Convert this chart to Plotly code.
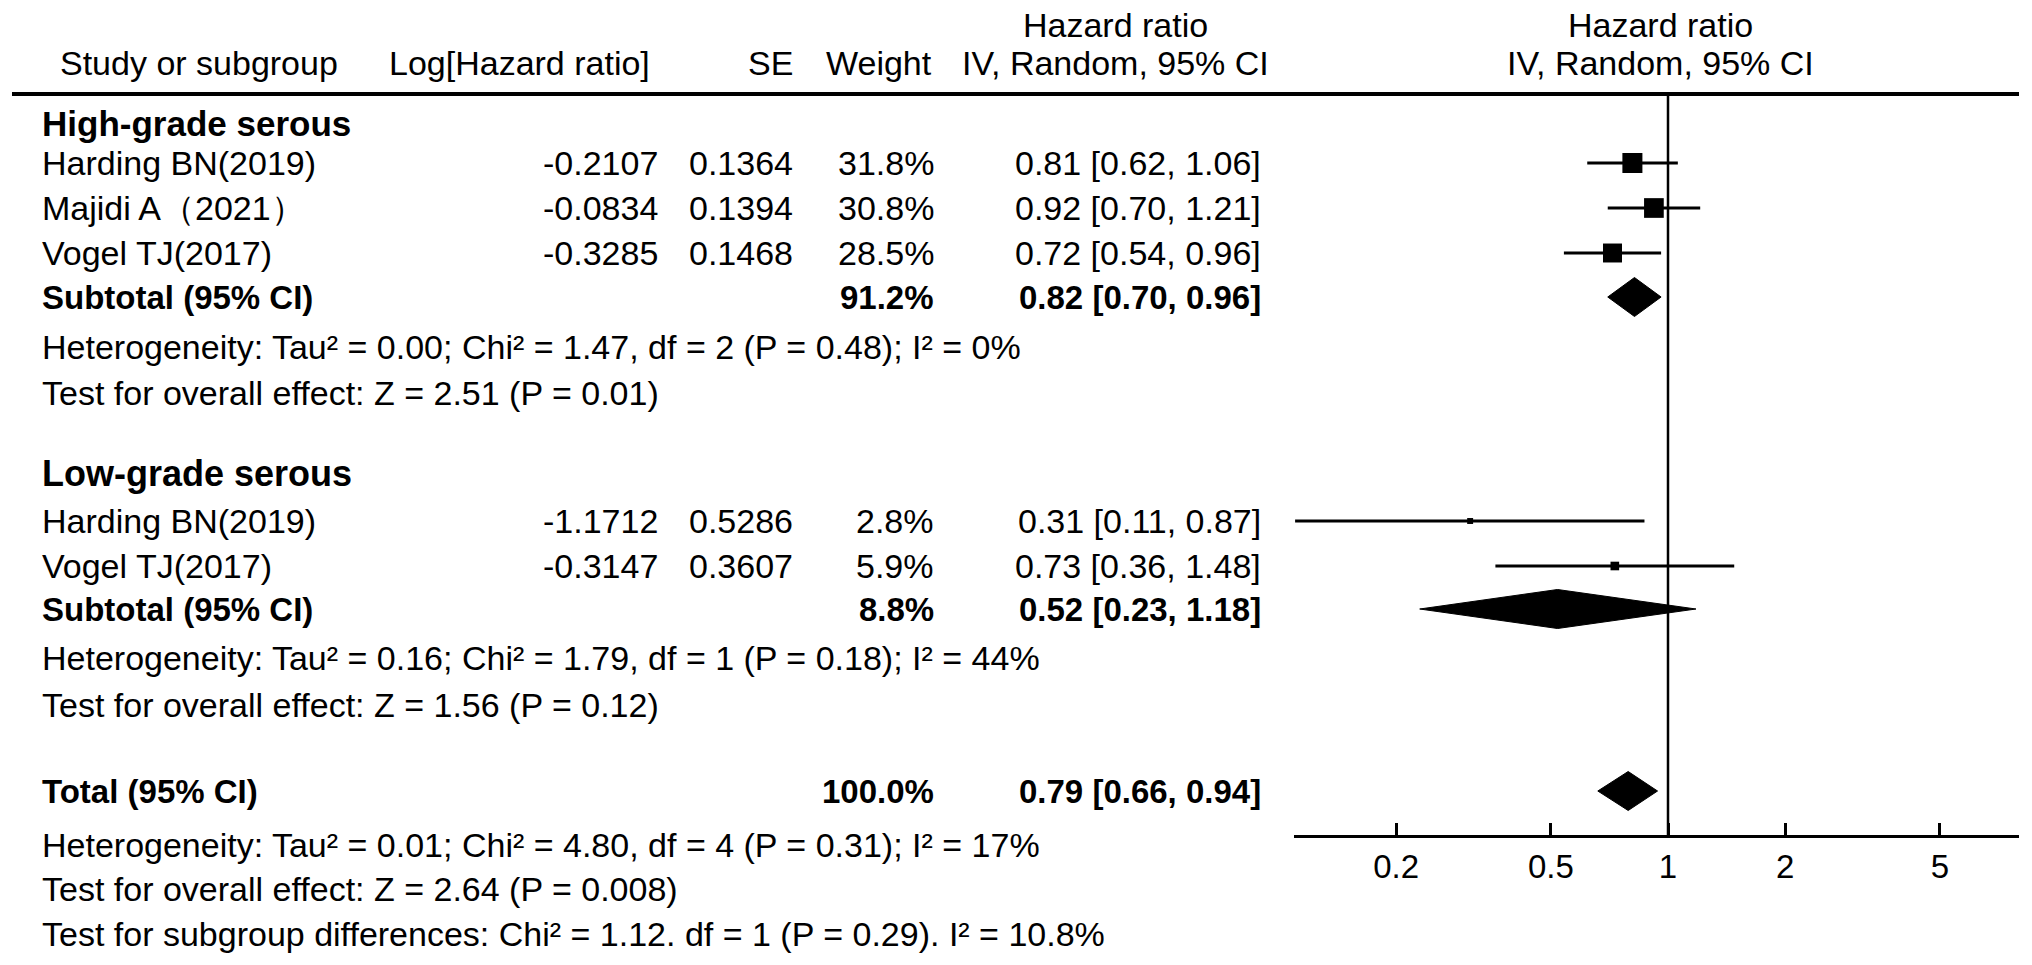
import math
import plotly.graph_objects as go

W, H = 2032, 965
FONT = "Liberation Sans, Arial, sans-serif"
FS = 34

# ---------------- data ----------------
hg_names = ["Harding BN(2019)", "Majidi A（2021）", "Vogel TJ(2017)"]
hg_loghr = [-0.2107, -0.0834, -0.3285]
hg_se = [0.1364, 0.1394, 0.1468]
hg_weight = [31.8, 30.8, 28.5]
hg_hr = [0.81, 0.92, 0.72]
hg_lo = [0.62, 0.70, 0.54]
hg_hi = [1.06, 1.21, 0.96]
hg_sub_weight = 91.2
hg_sub_hr = 0.82
hg_sub_lo = 0.70
hg_sub_hi = 0.96
hg_het = "Heterogeneity: Tau² = 0.00; Chi² = 1.47, df = 2 (P = 0.48); I² = 0%"
hg_test = "Test for overall effect: Z = 2.51 (P = 0.01)"

lg_names = ["Harding BN(2019)", "Vogel TJ(2017)"]
lg_loghr = [-1.1712, -0.3147]
lg_se = [0.5286, 0.3607]
lg_weight = [2.8, 5.9]
lg_hr = [0.31, 0.73]
lg_lo = [0.11, 0.36]
lg_hi = [0.87, 1.48]
lg_sub_weight = 8.8
lg_sub_hr = 0.52
lg_sub_lo = 0.23
lg_sub_hi = 1.18
lg_het = "Heterogeneity: Tau² = 0.16; Chi² = 1.79, df = 1 (P = 0.18); I² = 44%"
lg_test = "Test for overall effect: Z = 1.56 (P = 0.12)"

tot_weight = 100.0
tot_hr = 0.79
tot_lo = 0.66
tot_hi = 0.94
tot_het = "Heterogeneity: Tau² = 0.01; Chi² = 4.80, df = 4 (P = 0.31); I² = 17%"
tot_test = "Test for overall effect: Z = 2.64 (P = 0.008)"
sub_diff = "Test for subgroup differences: Chi² = 1.12. df = 1 (P = 0.29). I² = 10.8%"

tick_vals = [0.2, 0.5, 1, 2, 5]
tick_text = ["0.2", "0.5", "1", "2", "5"]

# ---------------- layout (pixel rows) ----------------
Y_H1, Y_H2, Y_LINE = 25, 63, 94
Y_HG_HEAD = 124
Y_HG_ROWS = [163, 208, 253]
Y_HG_SUB, Y_HG_HET, Y_HG_TEST = 297, 347, 393
Y_LG_HEAD = 474
Y_LG_ROWS = [521, 566]
Y_LG_SUB, Y_LG_HET, Y_LG_TEST = 609, 658, 705
Y_TOT, Y_TOT_HET, Y_TOT_TEST, Y_SUBDIFF = 791, 845, 889, 934
Y_AXIS = 835

X_NAME, X_LOG, X_SE, X_W, X_CI, X_PLOTC = 40, 660, 795, 936, 1263, 1660
X_AX0, X_AX1 = 1294, 2019

annotations = []


def txt(s, px, py, anchor="left", bold=False, size=FS):
    annotations.append(dict(
        text=("<b>%s</b>" % s) if bold else s,
        x=px / W, y=1 - py / H, xref="paper", yref="paper",
        xanchor=anchor, yanchor="middle", showarrow=False,
        font=dict(size=size, family=FONT, color="black")))


def ci_str(hr, lo, hi):
    return "%.2f [%.2f, %.2f]" % (hr, lo, hi)


# headers
txt("Study or subgroup", 58, Y_H2)
txt("Log[Hazard ratio]", 652, Y_H2, "right")
txt("SE", X_SE, Y_H2, "right")
txt("Weight", 934, Y_H2, "right")
txt("Hazard ratio", 1115, Y_H1, "center")
txt("IV, Random, 95% CI", 1115, Y_H2, "center")
txt("Hazard ratio", X_PLOTC, Y_H1, "center")
txt("IV, Random, 95% CI", X_PLOTC, Y_H2, "center")

fig = go.Figure()


def study_rows(names, loghr, se, weight, hr, lo, hi, rows):
    for i in range(len(names)):
        y = rows[i]
        txt(names[i], X_NAME, y)
        txt("%.4f" % loghr[i], X_LOG, y, "right")
        txt("%.4f" % se[i], X_SE, y, "right")
        txt("%.1f%%" % weight[i], X_W, y, "right")
        txt(ci_str(hr[i], lo[i], hi[i]), X_CI, y, "right")
        fig.add_trace(go.Scatter(x=[lo[i], hi[i]], y=[y, y], mode="lines",
                                 line=dict(color="black", width=3),
                                 hoverinfo="skip", showlegend=False))
        fig.add_trace(go.Scatter(x=[hr[i]], y=[y], mode="markers",
                                 marker=dict(symbol="square", color="black",
                                             size=3.55 * math.sqrt(weight[i]),
                                             line=dict(width=0)),
                                 showlegend=False))


def diamond(hr, lo, hi, y, h=39):
    fig.add_trace(go.Scatter(x=[lo, hr, hi, hr, lo], y=[y, y - h / 2, y, y + h / 2, y],
                             mode="lines", fill="toself", fillcolor="black",
                             line=dict(color="black", width=1),
                             hoverinfo="skip", showlegend=False))


# High-grade
txt("High-grade serous", X_NAME, Y_HG_HEAD, bold=True, size=35)
study_rows(hg_names, hg_loghr, hg_se, hg_weight, hg_hr, hg_lo, hg_hi, Y_HG_ROWS)
txt("Subtotal (95% CI)", X_NAME, Y_HG_SUB, bold=True, size=33)
txt("%.1f%%" % hg_sub_weight, X_W, Y_HG_SUB, "right", bold=True, size=33)
txt(ci_str(hg_sub_hr, hg_sub_lo, hg_sub_hi), X_CI, Y_HG_SUB, "right", bold=True, size=33)
diamond(hg_sub_hr, hg_sub_lo, hg_sub_hi, Y_HG_SUB)
txt(hg_het, X_NAME, Y_HG_HET)
txt(hg_test, X_NAME, Y_HG_TEST)

# Low-grade
txt("Low-grade serous", X_NAME, Y_LG_HEAD, bold=True, size=36)
study_rows(lg_names, lg_loghr, lg_se, lg_weight, lg_hr, lg_lo, lg_hi, Y_LG_ROWS)
txt("Subtotal (95% CI)", X_NAME, Y_LG_SUB, bold=True, size=33)
txt("%.1f%%" % lg_sub_weight, X_W, Y_LG_SUB, "right", bold=True, size=33)
txt(ci_str(lg_sub_hr, lg_sub_lo, lg_sub_hi), X_CI, Y_LG_SUB, "right", bold=True, size=33)
diamond(lg_sub_hr, lg_sub_lo, lg_sub_hi, Y_LG_SUB)
txt(lg_het, X_NAME, Y_LG_HET)
txt(lg_test, X_NAME, Y_LG_TEST)

# Total
txt("Total (95% CI)", X_NAME, Y_TOT, bold=True, size=33)
txt("%.1f%%" % tot_weight, X_W, Y_TOT, "right", bold=True, size=33)
txt(ci_str(tot_hr, tot_lo, tot_hi), X_CI, Y_TOT, "right", bold=True, size=33)
diamond(tot_hr, tot_lo, tot_hi, Y_TOT)
txt(tot_het, X_NAME, Y_TOT_HET)
txt(tot_test, X_NAME, Y_TOT_TEST)
txt(sub_diff, X_NAME, Y_SUBDIFF)

# line of no effect
fig.add_trace(go.Scatter(x=[1, 1], y=[Y_LINE, Y_AXIS], mode="lines",
                         line=dict(color="black", width=2.5),
                         hoverinfo="skip", showlegend=False))

px_per_dec = 389.0
x_center = 1668.0
fig.update_layout(
    width=W, height=H,
    margin=dict(l=0, r=0, t=0, b=0, pad=0),
    paper_bgcolor="white", plot_bgcolor="white",
    showlegend=False,
    annotations=annotations,
    shapes=[dict(type="line", xref="paper", yref="y", x0=12 / W, x1=X_AX1 / W,
                 y0=Y_LINE, y1=Y_LINE, line=dict(color="black", width=4))],
    xaxis=dict(type="log",
               range=[(X_AX0 - x_center) / px_per_dec, (X_AX1 - x_center) / px_per_dec],
               domain=[X_AX0 / W, X_AX1 / W],
               showline=True, linecolor="black", linewidth=3,
               ticks="inside", ticklen=12, tickwidth=3, tickcolor="black",
               tickvals=tick_vals, ticktext=tick_text,
               tickfont=dict(size=33, family=FONT, color="black"),
               showgrid=False, zeroline=False, fixedrange=True),
    yaxis=dict(domain=[(H - Y_AXIS) / H, 1], range=[Y_AXIS, 0],
               visible=False, fixedrange=True),
)

fig.write_html("out.html", config={"displayModeBar": False},
               post_script="document.body.style.margin='0';document.body.style.overflow='hidden';")
